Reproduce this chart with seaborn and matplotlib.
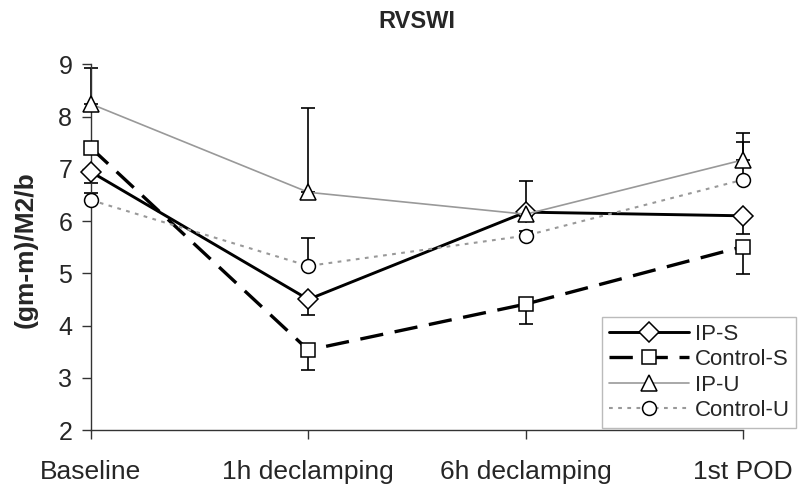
import matplotlib
matplotlib.use("Agg")
import matplotlib.pyplot as plt
import seaborn as sns
import pandas as pd
import numpy as np

categories = ["Baseline", "1h declamping", "6h declamping", "1st POD"]
ip_s = [6.94, 4.50, 6.17, 6.10]
ip_s_err_low = [0.21, 0.30, 0.08, 0.35]
control_s = [7.40, 3.53, 4.41, 5.51]
control_s_err_low = [0.10, 0.38, 0.39, 0.52]
ip_u = [8.24, 6.55, 6.13, 7.17]
ip_u_err_up = [0.68, 1.61, 0.64, 0.51]
control_u = [6.40, 5.14, 5.72, 6.79]
control_u_err_up = [0.13, 0.53, 0.08, 0.72]
y_ticks = [2, 3, 4, 5, 6, 7, 8, 9]

sns.set_theme(style="ticks")
plt.rcParams['font.family'] = ['Liberation Sans', 'DejaVu Sans']

fig = plt.figure(figsize=(8.01, 4.92), dpi=100)
ax = fig.add_axes([91/801, 1-430/492, (743-91)/801, (430-64.3)/492])

x = np.arange(len(categories))

series = [
    ("IP-S", ip_s, dict(color="black", lw=2.1, marker="D", ms=10, ls="-")),
    ("Control-S", control_s, dict(color="black", lw=2.4, marker="s", ms=9.5, dashes=(7, 3.5))),
    ("IP-U", ip_u, dict(color="#999999", lw=1.2, marker="^", ms=11, ls="-")),
    ("Control-U", control_u, dict(color="#999999", lw=1.5, marker="o", ms=10, dashes=(1.8, 2.6))),
]

# error bars
eb_kw = dict(fmt="none", ecolor="black", elinewidth=1.2, capsize=4.7, capthick=1.2, zorder=2)
for vals, lo, hi in [(ip_s, ip_s_err_low, [0]*4), (control_s, control_s_err_low, [0]*4),
                     (ip_u, [0]*4, ip_u_err_up), (control_u, [0]*4, control_u_err_up)]:
    cont = ax.errorbar(x, vals, yerr=[lo, hi], **eb_kw)
    for art in cont.lines[1] + cont.lines[2]:
        art.set_clip_on(False)

for name, vals, st in series:
    df = pd.DataFrame({"x": x, "y": vals})
    kw = dict(color=st["color"], lw=st["lw"], marker=st["marker"], markersize=st["ms"],
              markerfacecolor="white", markeredgecolor="black", markeredgewidth=1.1,
              clip_on=False)
    if "dashes" in st:
        kw["dashes"] = st["dashes"]
    else:
        kw["linestyle"] = st["ls"]
    sns.lineplot(data=df, x="x", y="y", ax=ax, sort=False, zorder=3, label=name, **kw)

ax.set_xlim(0, 3)
ax.set_ylim(2, 9)
ax.set_xticks(x)
ax.set_xticklabels(categories, fontsize=19)
ax.set_yticks(y_ticks)
ax.set_yticklabels([str(t) for t in y_ticks], fontsize=18)
ax.tick_params(axis="both", direction="out", length=6.5, width=1, color="#333333")
ax.tick_params(axis="x", pad=15)
ax.tick_params(axis="y", pad=7)
for s in ["top", "right"]:
    ax.spines[s].set_visible(False)
for s in ["left", "bottom"]:
    ax.spines[s].set_linewidth(1)
    ax.spines[s].set_color("#333333")
ax.set_xlabel("")
ax.set_ylabel("")
fig.text(26/801, 1-250/492, "(gm-m)/M2/b", fontsize=19, fontweight="bold",
         rotation=90, ha="center", va="center")

fig.text(417/801, 1-21/492, "RVSWI", fontsize=17, fontweight="bold", ha="center", va="center")

ax.get_legend().remove()
h, l = ax.get_legend_handles_labels()
leg = fig.legend(h, l, loc="upper left", bbox_to_anchor=(602/801, 1-317/492),
                 fontsize=16, frameon=True, fancybox=False, edgecolor="#aaaaaa",
                 handlelength=3.6, labelspacing=0.2, borderpad=0.3, handletextpad=0.27,
                 borderaxespad=0)
leg.get_frame().set_linewidth(1)

fig.savefig("out.png", dpi=100)
